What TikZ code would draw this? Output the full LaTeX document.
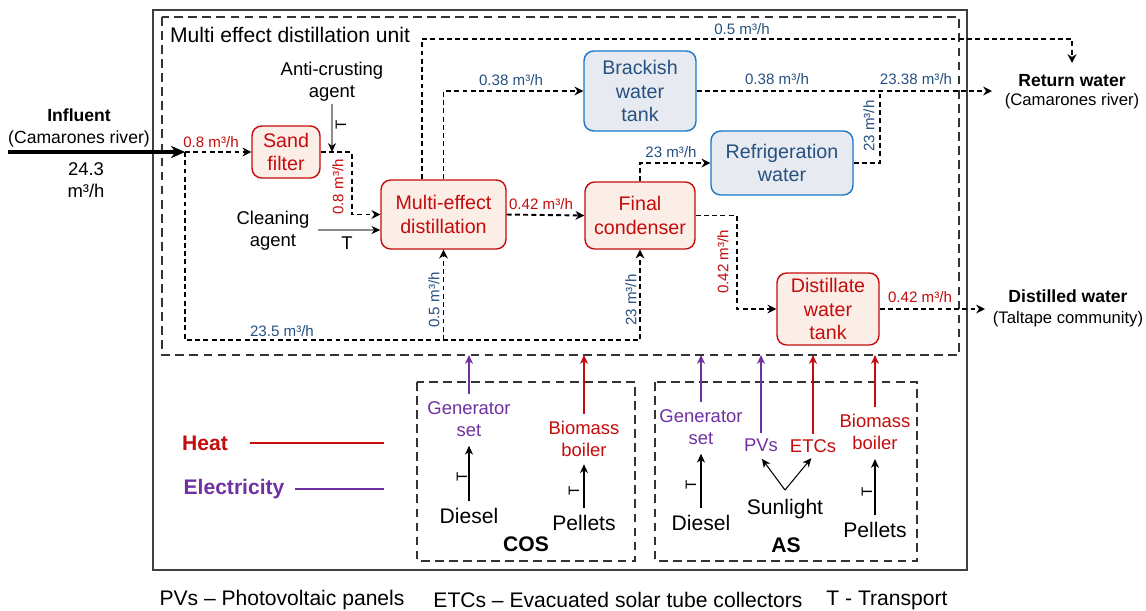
\documentclass[tikz,border=0pt]{standalone}
\usepackage{fontspec}
\setmainfont{Liberation Sans}
\usetikzlibrary{arrows.meta,positioning,calc}

\definecolor{heatRed}{RGB}{196,12,12}
\definecolor{peach}{RGB}{251,238,231}
\definecolor{tankBlue}{RGB}{28,118,200}
\definecolor{paleBlue}{RGB}{231,235,241}
\definecolor{darkBlue}{RGB}{38,80,128}
\definecolor{elecPurple}{RGB}{112,48,160}

\begin{document}
\begin{tikzpicture}[x=0.02cm, y=-0.02cm,
      every node/.style={align=center, inner sep=1pt, font=\fontsize{10.5}{12.6}\selectfont},
      redBox/.style={draw=heatRed, fill=peach, rounded corners=5.5pt, line width=0.8pt, text=heatRed, inner sep=0pt, font=\fontsize{11.2}{13.6}\selectfont},
      blueBox/.style={draw=tankBlue, fill=paleBlue, rounded corners=5.5pt, line width=0.8pt, text=darkBlue, inner sep=0pt, font=\fontsize{11.2}{13.6}\selectfont},
      flowline/.style={line width=1.1pt, dash pattern=on 2.8pt off 1.9pt},
      flowarrow/.style={flowline, -{Stealth[length=5pt, width=5pt, inset=1.6pt]}},
      agentarrow/.style={draw=black!45, line width=0.6pt, -{Stealth[black, length=5pt, width=4.5pt, inset=1.5pt]}},
      fuelarrow/.style={line width=0.6pt, -{Stealth[length=5pt, width=4.5pt, inset=1.5pt]}},
      heatarrow/.style={draw=heatRed, line width=1.1pt, -{Stealth[length=5pt, width=4.5pt, inset=1.5pt]}},
      elecarrow/.style={draw=elecPurple, line width=1.1pt, -{Stealth[length=5pt, width=4.5pt, inset=1.5pt]}},
      redRate/.style={text=heatRed, font=\fontsize{8.6}{10}\selectfont},
      blueRate/.style={text=darkBlue, font=\fontsize{8.6}{10}\selectfont},
      tMark/.style={font=\fontsize{8.6}{10}\selectfont, rotate=90},
      bigText/.style={font=\fontsize{12}{14.4}\selectfont},
      unitBox/.style={draw=black!80, line width=0.6pt, dash pattern=on 5pt off 3pt}
  ]
  \useasboundingbox (0,0) rectangle (1146,610);

  % frames
  \draw[black!75, line width=0.7pt] (153,10) rectangle (967,570);
  \draw[unitBox] (162,17) rectangle (959,355);
  \draw[unitBox] (417,382) rectangle (635,561);
  \draw[unitBox] (655,382) rectangle (917,561);
  \node[anchor=west, font=\fontsize{12}{14}\selectfont] (unitTitle) at (168,35) {Multi effect distillation unit};

  % process units
  \node[redBox, minimum width=1.36cm, minimum height=1.04cm] (sand) at (286,152) {Sand\\filter};
  \node[redBox, minimum width=2.5cm, minimum height=1.38cm] (med) at (443.5,214.5) {Multi-effect\\distillation};
  \node[blueBox, minimum width=2.24cm, minimum height=1.6cm] (brack) at (640,91) {Brackish\\water\\tank};
  \node[blueBox, minimum width=2.84cm, minimum height=1.28cm] (refrig) at (782,163) {Refrigeration\\water};
  \node[redBox, minimum width=2.2cm, minimum height=1.34cm] (cond) at (640,215.5) {Final\\condenser};
  \node[redBox, minimum width=2.04cm, minimum height=1.44cm] (dist) at (828,309) {Distillate\\water\\tank};

  % inlets and outlets
  \node[font=\fontsize{10}{12.5}\selectfont] (infl) at (79,128) {\textbf{Influent}\\(Camarones river)};
  \node (inflRate) at (86,180) {24.3\\m³/h};
  \node[font=\fontsize{10}{10.8}\selectfont] (retW) at (1072,91.5) {\textbf{Return water}\\{\fontsize{9.5}{10.8}\selectfont(Camarones river)}};
  \node[font=\fontsize{10}{12}\selectfont] (distW) at (1068,308.5) {\textbf{Distilled water}\\{\fontsize{9.5}{12}\selectfont(Taltape community)}};
  \node (anti) at (332,82) {Anti-crusting\\agent};
  \node[inner xsep=4.5pt] (clean) at (273,231) {Cleaning\\agent};

  \coordinate (inStart) at (8,152);
  \coordinate (junc) at (185,152);
  \coordinate (loop) at (185,340);
  \coordinate (topRun) at (1072,39);
  \coordinate (retTop) at (1072,63);
  \coordinate (retIn) at (992,91);
  \coordinate (mergeR) at (880,91);
  \coordinate (distIn) at (985,309);
  \coordinate (cleanIn) at ($(med.west)+(0,15.5)$);
  \coordinate (unitSW) at (162,355);

  % water flows
  \draw[line width=2pt, -{Stealth[length=8pt, width=7pt, inset=2.5pt]}] (inStart) -- (junc);
  \draw[flowarrow] (junc) -- (sand.west);
  \draw[flowarrow] (sand.east) -- ++(31,0) |- (med.west);
  \draw[flowarrow] (junc) -- (loop) -| (cond.south);
  \draw[flowarrow] (med.south |- loop) -- (med.south);
  \draw[flowarrow] ($(med.north)+(-21.5,0)$) |- (topRun) -- (retTop);
  \draw[flowarrow] (med.north) |- (brack.west);
  \draw[flowarrow] (brack.east) -- (retIn);
  \draw[flowline] (refrig.east) -| (mergeR);
  \draw[flowarrow] (med.east) -- (cond.west);
  \draw[flowarrow] (cond.north) |- (refrig.west);
  \draw[flowarrow] (cond.east) -- ++(41,0) |- (dist.west);
  \draw[flowarrow] (dist.east) -- (distIn);

  % chemical dosing
  \draw[agentarrow] (anti.south) -- (anti |- sand.east);
  \draw[agentarrow] (clean.east |- cleanIn) -- (cleanIn);
  \node[tMark] (tAnti) at (341,125) {T};
  \node[font=\fontsize{10.5}{12}\selectfont] (tClean) at (347,243) {T};

  % flow rates
  \node[redRate] (r1) at (211,142) {0.8 m³/h};
  \node[redRate, rotate=90] (r2) at (338,187) {0.8 m³/h};
  \node[blueRate] (r3) at (282,331) {23.5 m³/h};
  \node[blueRate, rotate=90] (r4) at (434,300) {0.5 m³/h};
  \node[blueRate, rotate=90] (r5) at (631,300) {23 m³/h};
  \node[redRate] (r6) at (541,204) {0.42 m³/h};
  \node[blueRate] (r7) at (671,152) {23 m³/h};
  \node[redRate, rotate=90] (r8) at (723,262) {0.42 m³/h};
  \node[blueRate] (r9) at (511,80) {0.38 m³/h};
  \node[blueRate] (r10) at (742,29) {0.5 m³/h};
  \node[blueRate] (r11) at (777,79) {0.38 m³/h};
  \node[blueRate] (r12) at (916,79) {23.38 m³/h};
  \node[blueRate, rotate=90] (r13) at (869,126) {23 m³/h};
  \node[redRate] (r14) at (920,297) {0.42 m³/h};

  % energy supply, COS
  \node[text=elecPurple] (genC) at (469,419) {Generator\\set};
  \node[text=heatRed] (bioC) at (584,439) {Biomass\\boiler};
  \node[bigText] (dieC) at (469,516) {Diesel};
  \node[bigText] (pelC) at (584,523) {Pellets};
  \node[bigText, font=\bfseries\fontsize{12}{14}\selectfont] (cos) at (526,544) {COS};
  \draw[elecarrow] ([yshift=3pt]genC.north) -- (genC.north |- unitSW);
  \draw[heatarrow] ([yshift=3pt]bioC.north) -- (bioC.north |- unitSW);
  \draw[fuelarrow] ([yshift=3pt]dieC.north) -- ([yshift=-4pt]genC.south);
  \draw[fuelarrow] ([yshift=3pt]pelC.north) -- ([yshift=-3pt]bioC.south);
  \node[tMark] (tDieC) at (462,477) {T};
  \node[tMark] (tPelC) at (574,491) {T};

  % energy supply, AS
  \node[text=elecPurple] (genA) at (701,427) {Generator\\set};
  \node[text=elecPurple] (pvA) at (761,445) {PVs};
  \node[text=heatRed] (etcA) at (813,446) {ETCs};
  \node[text=heatRed] (bioA) at (875,432) {Biomass\\boiler};
  \node[bigText] (dieA) at (701,523) {Diesel};
  \node[bigText] (sunA) at (785,509) {Sunlight};
  \node[bigText] (pelA) at (875,530) {Pellets};
  \node[bigText, font=\bfseries\fontsize{12}{14}\selectfont] (as) at (786,545) {AS};
  \draw[elecarrow] ([yshift=3pt]genA.north) -- (genA.north |- unitSW);
  \draw[elecarrow] ([yshift=2pt]pvA.north) -- (pvA.north |- unitSW);
  \draw[heatarrow] ([yshift=2pt]etcA.north) -- (etcA.north |- unitSW);
  \draw[heatarrow] ([yshift=3pt]bioA.north) -- (bioA.north |- unitSW);
  \draw[fuelarrow] ([yshift=3pt]dieA.north) -- ([yshift=-4pt]genA.south);
  \draw[fuelarrow] ([yshift=3pt]pelA.north) -- ([yshift=-4pt]bioA.south);
  \draw[fuelarrow] ([yshift=4pt]sunA.north) -- ([xshift=0.5pt, yshift=-3pt]pvA.south);
  \draw[fuelarrow] ([yshift=4pt]sunA.north) -- ([xshift=-1pt, yshift=-2pt]etcA.south);
  \node[tMark] (tDieA) at (691,485) {T};
  \node[tMark] (tPelA) at (867,492) {T};

  % legend
  \node[font=\bfseries\fontsize{12}{14}\selectfont, text=heatRed] (heat) at (205,443) {Heat};
  \node[font=\bfseries\fontsize{12}{14}\selectfont, text=elecPurple] (elec) at (234,489) {Electricity};
  \coordinate (legEnd) at (384,0);
  \draw[heatRed, line width=1.2pt] ([xshift=0.4cm]heat.east) -- (legEnd |- heat.east);
  \draw[elecPurple, line width=1.2pt] ([xshift=0.16cm]elec.east) -- (legEnd |- elec.east);

  % abbreviations
  \node[bigText] (abbrPV) at (282,600) {PVs – Photovoltaic panels};
  \node[bigText] (abbrETC) at (618,600) {ETCs – Evacuated solar tube collectors};
  \node[bigText] (abbrT) at (887,600) {T - Transport};
\end{tikzpicture}
\end{document}
